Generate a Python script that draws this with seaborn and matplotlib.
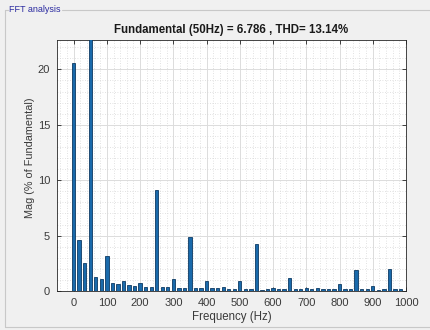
import numpy as np
import pandas as pd
import matplotlib
matplotlib.use("Agg")
import matplotlib.pyplot as plt
from matplotlib.lines import Line2D
from matplotlib.ticker import MultipleLocator
import seaborn as sns

# FFT bins (Hz) : spacing 50/3 Hz
freq = np.round(np.arange(60) * 50.0 / 3.0, 2)
mag = [20.6, 4.6, 2.5, 100.0, 1.23, 1.05, 3.15, 0.75, 0.66, 0.87,
       0.51, 0.48, 0.75, 0.39, 0.39, 9.1, 0.33, 0.33, 1.1, 0.27,
       0.3, 4.83, 0.24, 0.27, 0.87, 0.24, 0.24, 0.33, 0.2, 0.15,
       0.87, 0.17, 0.2, 4.28, 0.12, 0.2, 0.24, 0.15, 0.2, 1.2,
       0.18, 0.2, 0.3, 0.18, 0.24, 0.2, 0.15, 0.18, 0.66, 0.15,
       0.15, 1.92, 0.15, 0.15, 0.45, 0.12, 0.15, 2.0, 0.15, 0.15]
xticks = [0, 100, 200, 300, 400, 500, 600, 700, 800, 900, 1000]
yticks = [0, 5, 10, 15, 20]
title = "Fundamental (50Hz) = 6.786 , THD= 13.14%"
panel_title = "FFT analysis"

df = pd.DataFrame({"freq": freq, "mag": mag})

sns.set_theme(style="white")
plt.rcParams["font.family"] = ["Liberation Sans", "DejaVu Sans"]

W, H = 430, 330
fig = plt.figure(figsize=(W / 100, H / 100), dpi=100, facecolor="#f0f0f0")
ax_l, ax_t, ax_r, ax_b = 57, 39.5, 406, 291
ax = fig.add_axes([ax_l / W, 1 - ax_b / H, (ax_r - ax_l) / W, (ax_b - ax_t) / H])
ax.set_facecolor("white")

sns.barplot(data=df, x="freq", y="mag", native_scale=True, width=0.6,
            color="#1a6aab", edgecolor="#0d3a63", linewidth=0.6,
            saturation=1, ax=ax, zorder=3)

ax.set_xlim(-50, 1000)
ax.set_ylim(0, 22.7)
ax.set_xticks(xticks)
ax.set_xticklabels([str(t) for t in xticks])
ax.set_yticks(yticks)
ax.set_yticklabels([str(t) for t in yticks])
ax.xaxis.set_minor_locator(MultipleLocator(20))
ax.yaxis.set_minor_locator(MultipleLocator(1))
ax.grid(which="major", color="#dcdcdc", linewidth=0.7, zorder=0)
ax.grid(which="minor", color="#d8d8d8", linewidth=0.6, linestyle=(0, (1, 2)), zorder=0)
ax.set_axisbelow(True)

tc = "#3a3a3a"
ax.tick_params(which="major", direction="in", length=3, width=0.6, colors="#262626",
               labelcolor=tc, labelsize=8, top=True, right=True, bottom=True,
               left=True, pad=5)
ax.tick_params(which="minor", length=0)
for s in ax.spines.values():
    s.set_color("#262626")
    s.set_linewidth(0.6)
    s.set_visible(True)

ax.set_xlabel("Frequency (Hz)", fontsize=8.3, color=tc)
ax.set_ylabel("Mag (% of Fundamental)", fontsize=7.8, color=tc)
ax.xaxis.set_label_coords((231.5 - ax_l) / (ax_r - ax_l), -(317 - ax_b) / (ax_b - ax_t))
ax.yaxis.set_label_coords(-(ax_l - 30) / (ax_r - ax_l), (ax_b - 158) / (ax_b - ax_t))
ax.xaxis.label.set_va("center")
ax.yaxis.label.set_va("center")
ax.set_title(title, fontsize=8.3, fontweight="bold", color="#1a1a1a", pad=5)

# panel frame
lc = "#c8c8c8"
fig.add_artist(Line2D([5 / W, 5 / W], [1 - 10 / H, 1 - 327 / H], transform=fig.transFigure, color=lc, lw=0.8))
fig.add_artist(Line2D([5 / W, 1.0], [1 - 327 / H, 1 - 327 / H], transform=fig.transFigure, color=lc, lw=0.8))
fig.add_artist(Line2D([5 / W, 8 / W], [1 - 10 / H, 1 - 10 / H], transform=fig.transFigure, color=lc, lw=0.8))
fig.add_artist(Line2D([62 / W, 1.0], [1 - 10 / H, 1 - 10 / H], transform=fig.transFigure, color=lc, lw=0.8))
fig.text(9 / W, 1 - 10 / H, panel_title, fontsize=6.5, color="#2a2aa0", va="center", ha="left")

fig.savefig("out.png", dpi=100, facecolor=fig.get_facecolor())
